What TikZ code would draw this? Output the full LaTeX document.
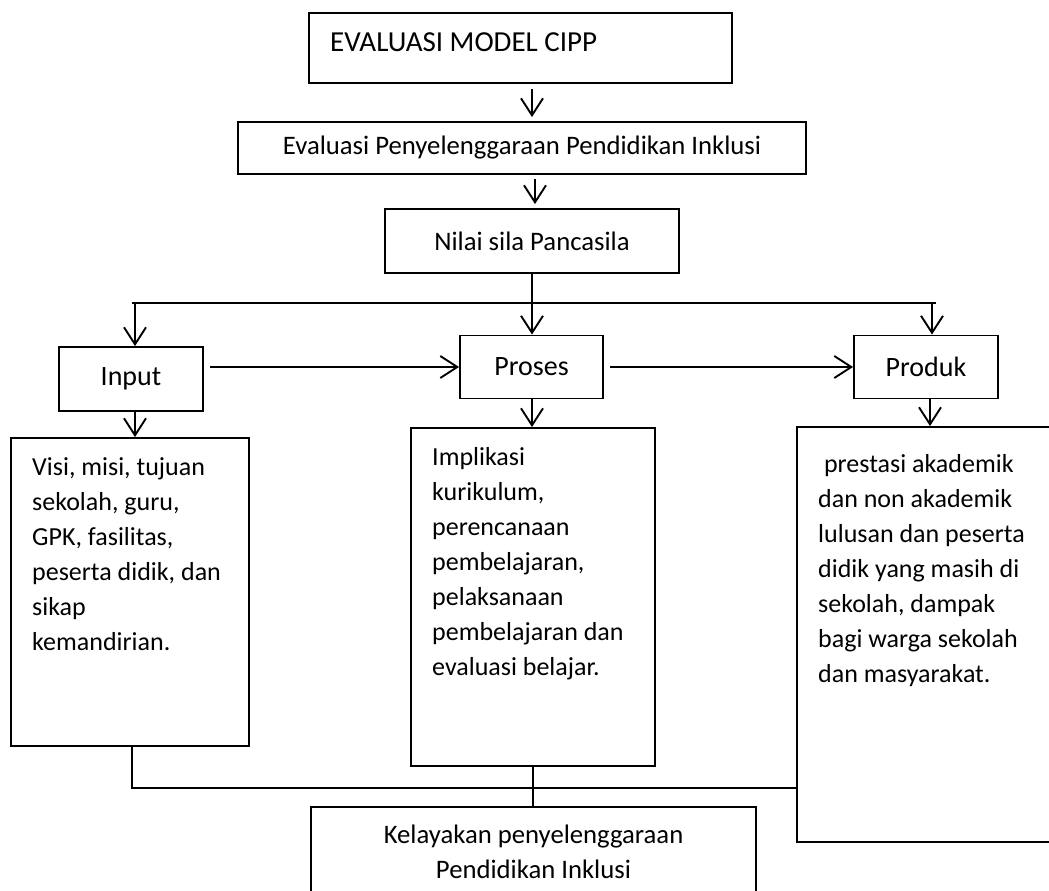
\documentclass[tikz,border=0pt]{standalone}
\usepackage{fontspec}
\setmainfont{Carlito}
\usetikzlibrary{arrows.meta}
\tikzset{
  boxnode/.style={draw=black, line width=1.9pt, inner sep=0pt, fill=none},
  arr/.style={line width=1.9pt, -{Straight Barb[length=17pt,width=22pt,line width=1.9pt]}},
  conn/.style={line width=1.9pt},
  lbl/.style={inner sep=0pt, text=black},
}
\begin{document}
\begin{tikzpicture}[x=1pt,y=-1pt]
\useasboundingbox (0,0) rectangle (1049,891);
\clip (0,0) rectangle (1049,891);
\fill[white] (0,0) rectangle (1049,891);

% boxes
\node[boxnode, minimum width=423pt, minimum height=70pt] (cipp) at (520.5,48) {};
\node[lbl, anchor=base west, font=\fontsize{29}{35}\selectfont] (cippT) at (330,52) {EVALUASI MODEL CIPP};

\node[boxnode, minimum width=568pt, minimum height=52pt, font=\fontsize{26.7}{35}\selectfont] (epp) at (522,148) {Evaluasi Penyelenggaraan Pendidikan Inklusi};

\node[boxnode, minimum width=294pt, minimum height=64pt, font=\fontsize{26.7}{35}\selectfont] (nilai) at (532,241) {Nilai sila Pancasila};

\node[boxnode, minimum width=144pt, minimum height=64pt, font=\fontsize{28}{35}\selectfont] (input) at (131,379) {Input};
\node[boxnode, minimum width=143pt, minimum height=63pt, font=\fontsize{28}{35}\selectfont] (proses) at (531.5,367) {Proses};
\node[boxnode, minimum width=144pt, minimum height=63pt, font=\fontsize{28}{35}\selectfont] (produk) at (926,367) {Produk};

\node[boxnode, minimum width=238pt, minimum height=308pt] (inC) at (130,592) {};
\node[boxnode, minimum width=244pt, minimum height=338pt] (prC) at (533,597) {};
\node[boxnode, minimum width=263pt, minimum height=415pt] (pdC) at (928.5,634.5) {};
\node[boxnode, minimum width=445pt, minimum height=113pt] (kel) at (533.5,863.5) {};

% content texts
\node[lbl, anchor=north west, align=left, font=\fontsize{26}{35}\selectfont] (inT) at (32,450.5)
  {\strut Visi, misi, tujuan\\sekolah, guru,\\GPK, fasilitas,\\peserta didik, dan\\sikap\\kemandirian.};
\node[lbl, anchor=north west, align=left, font=\fontsize{26}{35}\selectfont] (prT) at (432,440.5)
  {\strut Implikasi\\kurikulum,\\perencanaan\\pembelajaran,\\pelaksanaan\\pembelajaran dan\\evaluasi belajar.};
\node[lbl, anchor=north west, align=left, font=\fontsize{26}{35}\selectfont] (pdT) at (818,448)
  {\strut\hspace*{.226em}prestasi akademik\\dan non akademik\\lulusan dan peserta\\didik yang masih di\\sekolah, dampak\\bagi warga sekolah\\dan masyarakat.};
\node[lbl, anchor=north, align=center, font=\fontsize{26.7}{35}\selectfont] (kelT) at (533.5,818.5)
  {\strut Kelayakan penyelenggaraan\\Pendidikan Inklusi};

% coordinates
\coordinate (hl) at (132,303);
\coordinate (hr) at (936,303);
\coordinate (bl) at (135,303);
\coordinate (br) at (932,303);
\coordinate (bj) at (797,788);

% connectors
\draw[arr, shorten <=5pt, shorten >=4pt] (cipp.south -| nilai.north) -- (epp.north -| nilai.north);
\draw[arr, shorten <=4pt, shorten >=4pt] ([xshift=3pt]epp.south -| nilai.north) -- ([xshift=3pt]nilai.north);
\draw[arr] (nilai.south) -- (nilai.south |- proses.north);
\draw[conn] (hl) -- (hr);
\draw[arr] (bl) -- (bl |- input.north);
\draw[arr] (br) -- (br |- produk.north);
\draw[arr, shorten <=6pt] (input.east |- proses.west) -- (proses.west);
\draw[arr, shorten <=6pt] (proses.east) -- (produk.west);
\draw[arr] (bl |- input.south) -- (bl |- inC.north);
\draw[arr] (nilai.south |- proses.south) -- (nilai.south |- prC.north);
\draw[arr] ([xshift=4pt]produk.south) -- ([xshift=4pt]produk.south |- pdC.north);
\draw[conn] ([xshift=2pt]inC.south) |- (bj);
\draw[conn] (prC.south) -- (prC.south |- kel.north);
\end{tikzpicture}
\end{document}
